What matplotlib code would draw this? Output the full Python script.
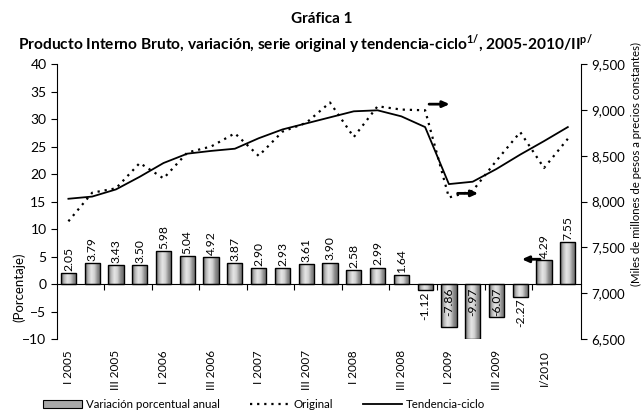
import matplotlib
matplotlib.use('Agg')
import matplotlib.pyplot as plt
import matplotlib.transforms as mtransforms
from matplotlib.colors import LinearSegmentedColormap
from matplotlib.ticker import FuncFormatter, MultipleLocator
import numpy as np

plt.rcParams['font.family'] = ['Lato', 'DejaVu Sans']
plt.rcParams['mathtext.fontset'] = 'custom'
plt.rcParams['mathtext.rm'] = 'Lato'
plt.rcParams['mathtext.bf'] = 'Lato:bold'

# quarters I 2005 .. II 2010
variacion = [2.05, 3.79, 3.43, 3.50, 5.98, 5.04, 4.92, 3.87, 2.90, 2.93, 3.61,
             3.90, 2.58, 2.99, 1.64, -1.12, -7.86, -9.97, -6.07, -2.27, 4.29, 7.55]
original = [7784, 8096, 8144, 8420, 8252, 8534, 8600, 8744, 8498, 8762, 8858,
            9080, 8703, 9039, 9003, 8995, 8044, 8117, 8446, 8757, 8366, 8684]
tendencia = [8030, 8054, 8132, 8270, 8420, 8522, 8552, 8576, 8690, 8786, 8852,
             8918, 8984, 8995, 8929, 8812, 8190, 8216, 8355, 8512, 8659, 8812]
tick_labels = ['I 2005', 'III 2005', 'I 2006', 'III 2006', 'I 2007', 'III 2007',
               'I 2008', 'III 2008', 'I 2009', 'III 2009', 'I/2010']

x = np.arange(len(variacion))

fig = plt.figure(figsize=(6.44, 4.17), dpi=100)
ax = fig.add_axes([0.0885, 0.187, 0.8135, 0.6595])
ax2 = ax.twinx()

# bars with a gray gradient
bars = ax.bar(x, variacion, width=0.64, facecolor='none', edgecolor='black',
              linewidth=1.0, zorder=3)
cmap = LinearSegmentedColormap.from_list(
    'barra', ['#5e5e5e', '#b8b8b8', '#e6e6e6', '#d0d0d0', '#8c8c8c', '#6a6a6a'])
grad = np.linspace(0, 1, 64).reshape(1, -1)
for b in bars:
    x0, y0 = b.get_x(), b.get_y()
    w, h = b.get_width(), b.get_height()
    im = ax.imshow(grad, extent=[x0, x0 + w, y0, y0 + h], aspect='auto',
                   cmap=cmap, zorder=2, interpolation='bilinear')
    im.set_clip_path(b)

for xi, v in zip(x, variacion):
    if v >= 0:
        ax.text(xi, v + 0.4, '%.2f' % v, rotation=90, ha='center', va='bottom', fontsize=8.7)
    elif v > -3:
        ax.text(xi, v - 0.3, '%.2f' % v, rotation=90, ha='center', va='top', fontsize=8.7)
    else:
        ax.text(xi, -0.6, '%.2f' % v, rotation=90, ha='center', va='top', fontsize=8.7, zorder=4)

ax.set_xlim(-0.48, 21.55)
ax.set_ylim(-10, 40)
ax.yaxis.set_major_locator(MultipleLocator(5))
ax.spines['top'].set_visible(False)
ax.spines['right'].set_visible(False)
ax.spines['bottom'].set_position(('data', 0))
ax.set_xticks(np.arange(1.5, 20, 2))
ax.set_xticklabels([])
ax.tick_params(axis='x', length=4, direction='out')
ax.tick_params(axis='y', labelsize=10, length=4)
ax.set_ylabel('(Porcentaje)', fontsize=9.5)
ax.yaxis.set_label_coords(-0.06, 0.19)

trans = mtransforms.blended_transform_factory(ax.transData, ax.transAxes)
for i, lab in enumerate(tick_labels):
    ax.text(x[2 * i], -0.04, lab, transform=trans, rotation=90,
            ha='center', va='top', fontsize=8.5)

# lines on the right axis
ax2.plot(x, original, color='black', linestyle=(0, (1, 2.2)), linewidth=1.6, label='Original')
ax2.plot(x, tendencia, color='black', linewidth=1.3, label='Tendencia-ciclo')
ax2.set_ylim(6500, 9500)
ax2.yaxis.set_major_locator(MultipleLocator(500))
ax2.yaxis.set_major_formatter(FuncFormatter(lambda v, p: '{:,.0f}'.format(v)))
ax2.tick_params(axis='y', labelsize=9.5, length=4)
ax2.spines['top'].set_visible(False)
ax2.spines['left'].set_visible(False)
ax2.spines['bottom'].set_visible(False)
fig.text(0.988, 0.606, '(Miles de millones de pesos a precios constantes)',
         rotation=90, ha='center', va='center', fontsize=8.2)

arrow = dict(arrowstyle='-|>,head_length=0.4,head_width=0.18', color='black', lw=2)
ax2.annotate('', xy=(16.15, 9062), xytext=(15.05, 9062), arrowprops=arrow)
ax2.annotate('', xy=(17.35, 8089), xytext=(16.25, 8089), arrowprops=arrow)
ax.annotate('', xy=(18.95, 4.5), xytext=(19.95, 4.5), arrowprops=arrow)

fig.text(0.5, 0.955, 'Gráfica 1', ha='center', va='center', fontsize=11, fontweight='bold')
fig.text(0.474, 0.893,
         r'Producto Interno Bruto, variación, serie original y tendencia-ciclo$^{\mathbf{1/}}$, 2005-2010/II$^{\mathbf{p/}}$',
         ha='center', va='center', fontsize=11.2, fontweight='bold')

handles = [plt.Rectangle((0, 0), 1, 1, facecolor='#a8a8a8', edgecolor='black', linewidth=0.8)]
handles += ax2.get_lines()
fig.legend(handles, ['Variación porcentual anual', 'Original', 'Tendencia-ciclo'],
           loc='center', bbox_to_anchor=(0.41, 0.03), ncol=3, frameon=False,
           fontsize=8.3, handlelength=3.4, handleheight=0.8, handletextpad=0.35,
           columnspacing=2.6)

fig.savefig('out.png', dpi=100)
